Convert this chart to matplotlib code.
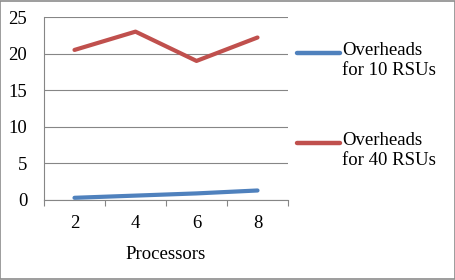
import matplotlib
matplotlib.use("Agg")
import matplotlib.pyplot as plt
from matplotlib.lines import Line2D
from matplotlib.patches import Rectangle

# Data
processors = ["2", "4", "6", "8"]
overheads_10 = [0.3, 0.6, 0.9, 1.3]
overheads_40 = [20.5, 23.0, 19.0, 22.2]
series_labels = ["Overheads\nfor 10 RSUs", "Overheads\nfor 40 RSUs"]
y_ticks = [0, 5, 10, 15, 20, 25]

blue = "#4F81BD"
red = "#C0504D"
grid_col = "#868686"

plt.rcParams["font.family"] = ["Liberation Serif", "DejaVu Serif"]
plt.rcParams["font.size"] = 13.5

fig = plt.figure(figsize=(4.56, 2.8), dpi=100)
ax = fig.add_axes([44 / 456, 1 - 200 / 280, 244 / 456, 183 / 280])

xs = range(len(processors))
ax.plot(xs, overheads_10, color=blue, lw=3.0, solid_capstyle="round")
ax.plot(xs, overheads_40, color=red, lw=3.0, solid_capstyle="round")

ax.set_xlim(-0.5, len(processors) - 0.5)
ax.set_ylim(0, 25)
ax.set_yticks(y_ticks)
ax.yaxis.grid(True, color=grid_col, lw=0.8)
ax.set_axisbelow(True)
ax.set_xticks(list(xs))
ax.set_xticklabels(processors)
ax.set_xticks([i - 0.5 for i in range(len(processors) + 1)], minor=True)
ax.tick_params(axis="x", which="major", length=0, pad=11)
ax.tick_params(axis="x", which="minor", length=4, color=grid_col, width=0.8)
ax.tick_params(axis="y", length=0, pad=12)
for s in ["top", "right"]:
    ax.spines[s].set_visible(False)
for s in ["left", "bottom"]:
    ax.spines[s].set_color(grid_col)
    ax.spines[s].set_linewidth(0.8)
ax.set_xlabel("Processors", labelpad=10)

# legend drawn at the right side
for lab, col, yy in [(series_labels[0], blue, 53), (series_labels[1], red, 143)]:
    fig.add_artist(Line2D([297 / 456, 340 / 456], [1 - yy / 280] * 2,
                          color=col, lw=3.2, solid_capstyle="round"))
    fig.text(342 / 456, 1 - (yy - 11) / 280, lab, va="top", ha="left",
             linespacing=1.25)

fig.add_artist(Rectangle((0.001, 0.002), 0.997, 0.995, transform=fig.transFigure,
                         fill=False, edgecolor="#8c8c8c", lw=1.2))

fig.savefig("out.png", dpi=100)
